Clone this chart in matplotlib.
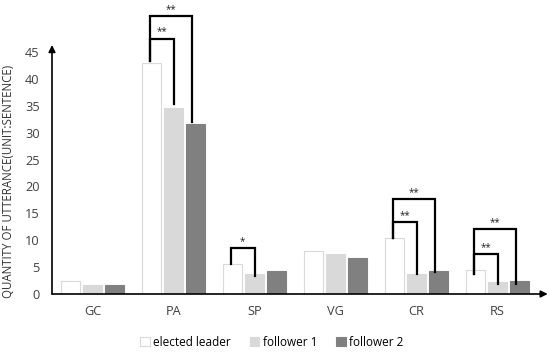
import matplotlib
matplotlib.use("Agg")
import matplotlib.pyplot as plt
import numpy as np
from matplotlib.patches import Patch

plt.rcParams['font.family'] = ['Open Sans', 'DejaVu Sans']

categories = ["GC", "PA", "SP", "VG", "CR", "RS"]
series_names = ["elected leader", "follower 1", "follower 2"]
elected_leader = [2.4, 43.0, 5.5, 8.0, 10.4, 4.4]
follower_1 = [1.6, 34.6, 3.7, 7.4, 3.8, 2.2]
follower_2 = [1.6, 31.7, 4.2, 6.7, 4.3, 2.5]
y_ticks = [0, 5, 10, 15, 20, 25, 30, 35, 40, 45]

# significance brackets: (category, from series, to series, bracket top, left leg bottom, right leg bottom, label)
brackets = [
    ("PA", 0, 1, 47.5, 43.3, 35.3, "**"),
    ("PA", 0, 2, 51.7, 43.3, 32.0, "**"),
    ("SP", 0, 1, 8.6, 5.6, 3.4, "*"),
    ("CR", 0, 1, 13.3, 10.4, 3.8, "**"),
    ("CR", 0, 2, 17.6, 10.4, 4.0, "**"),
    ("RS", 0, 1, 7.4, 3.8, 1.8, "**"),
    ("RS", 0, 2, 12.0, 3.8, 1.9, "**"),
]

W, H = 550, 354
fig = plt.figure(figsize=(W / 100, H / 100), dpi=100)
ax = fig.add_axes([52 / W, 1 - 294 / H, (538 - 52) / W, (294 - 45) / H])

x = np.arange(len(categories))
off = 0.272
bw = 0.225
series = [elected_leader, follower_1, follower_2]
faces = ["white", "#d9d9d9", "#808080"]
edges = ["#d9d9d9", "#d9d9d9", "#808080"]
for i, (vals, fc, ec) in enumerate(zip(series, faces, edges)):
    ax.bar(x + (i - 1) * off, vals, bw, color=fc, edgecolor=ec, linewidth=0.8, zorder=2)

ax.set_xlim(-0.5, 5.5)
ax.set_ylim(0, 46.3)
ax.set_yticks(y_ticks)
ax.set_xticks(x)
ax.set_xticklabels(categories)
ax.tick_params(axis='both', length=0, labelsize=9.2, colors="#404040")
ax.tick_params(axis='y', pad=9)
ax.tick_params(axis='x', pad=8)
for s in ["top", "right", "left", "bottom"]:
    ax.spines[s].set_visible(False)

# arrow axes
ax.annotate("", xy=(0, 1.0), xytext=(0, 0), xycoords='axes fraction',
            arrowprops=dict(arrowstyle="-|>", color="black", lw=1.2, mutation_scale=10,
                            shrinkA=0, shrinkB=0), annotation_clip=False)
ax.annotate("", xy=(1.02, 0), xytext=(0, 0), xycoords='axes fraction',
            arrowprops=dict(arrowstyle="-|>", color="black", lw=1.2, mutation_scale=10,
                            shrinkA=0, shrinkB=0), annotation_clip=False)

ax.set_ylabel("QUANTITY OF UTTERANCE(UNIT:SENTENCE)", fontsize=8.3, color="#333333")
ax.yaxis.set_label_coords(-37 / 486, (294 - 181) / 249)

for cat, a, b, top, lb, rb, lab in brackets:
    c = categories.index(cat)
    xl = c + (a - 1) * off - 0.02
    xr = c + (b - 1) * off - (0.04 if b == 2 else 0.0)
    ax.plot([xl, xl, xr, xr], [lb, top, top, rb], color="black", lw=1.6,
            clip_on=False, zorder=3, solid_joinstyle='miter')
    ax.text((xl + xr) / 2, top + 0.2, lab, ha="center", va="bottom", fontsize=7,
            color="#222222", clip_on=False)

handles = [Patch(facecolor=fc, edgecolor=ec, linewidth=0.8) for fc, ec in zip(faces, edges)]
fig.legend(handles, series_names, loc="center", bbox_to_anchor=(272 / W, 1 - 342 / H),
           ncol=3, frameon=False, fontsize=8.5, handlelength=0.8, handleheight=0.8,
           handletextpad=0.3, columnspacing=1.6)

fig.savefig("out.png", dpi=100)
